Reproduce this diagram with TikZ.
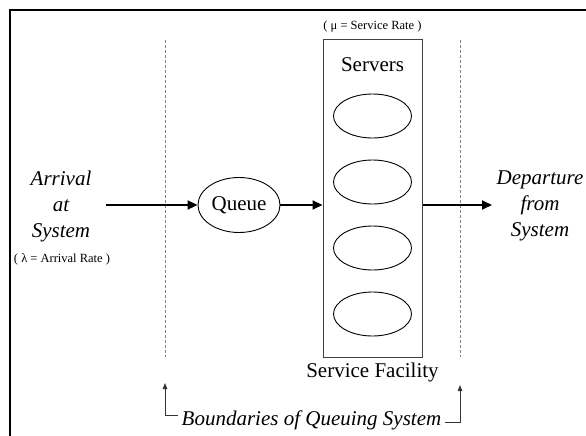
\documentclass[tikz,border=0pt]{standalone}
\usepackage{fontspec}
\setmainfont{Liberation Serif}
\usetikzlibrary{positioning,shapes.geometric,arrows.meta}
\tikzset{%
  server/.style={
    ellipse,
    draw,
    line width=0.9pt,
    minimum width=78pt,
    minimum height=44pt,
    inner sep=0pt
  },
  flow/.style={
    line width=1.8pt,
    -{Triangle[length=10pt,width=9pt]}
  },
  boundary/.style={
    gray,
    line width=0.8pt,
    dash pattern=on 3pt off 2pt
  },
  bracket/.style={
    black!80,
    line width=1pt,
    {Triangle[length=6pt,width=4.5pt]}-
  },
  bigtext/.style={font=\fontsize{21}{26}\selectfont},
  bigslant/.style={font=\fontsize{21}{26}\selectfont\itshape},
  smalltext/.style={font=\fontsize{12.5}{14}\selectfont},
}

\begin{document}
\begin{tikzpicture}[x=1pt, y=-1pt]
\useasboundingbox (0,0) rectangle (586,436);
\draw[line width=2.5pt] (10,436) -- (10,10) -- (586,10);

    % system boundaries
    \draw[boundary] (165,40) -- (165,357);
    \draw[boundary] (460,40) -- (460,357);

    % service facility with its servers
    \node[draw, black!75, line width=1pt, minimum width=99pt, minimum height=317pt] (facility) at (372.5,198.5) {};
    \node[smalltext] (mu) at (372.5,27) {( μ = Service Rate )};
    \node[bigtext] (servers) at (372.5,65) {Servers};
    \foreach \i/\y in {1/116, 2/182, 3/248, 4/314}
        \node[server] (srv\i) at (372.5,\y) {};
    \node[bigtext] (facname) at (372.5,372) {Service Facility};

    % queue
    \node[ellipse, draw, line width=0.9pt, minimum width=82pt, minimum height=55pt, inner sep=0pt, bigtext] (queue) at (239,205) {Queue};

    % arrivals and departures
    \node[bigslant, align=center] (arrival) at (61,206) {Arrival\\at\\System};
    \node[smalltext] (lambda) at (62,259) {( λ = Arrival Rate )};
    \node[bigslant, align=center] (departure) at (540,206) {Departure\\from\\System};
    \coordinate (in) at (106,205);
    \coordinate (out) at (492,205);

    \draw[flow] (in) -- (queue);
    \draw[flow] (queue) -- (queue -| facility.west);
    \draw[flow] (queue -| facility.east) -- (out);

    % boundaries label
    \node[bigslant] (bnd) at (311.5,420) {Boundaries of Queuing System};
    \coordinate (bl) at (165,383);
    \coordinate (br) at (460,385);
    \draw[bracket] (bl) |- ([yshift=5pt]bnd.west);
    \draw[bracket] (br) |- ([yshift=-2pt]bnd.east);
\end{tikzpicture}
\end{document}
